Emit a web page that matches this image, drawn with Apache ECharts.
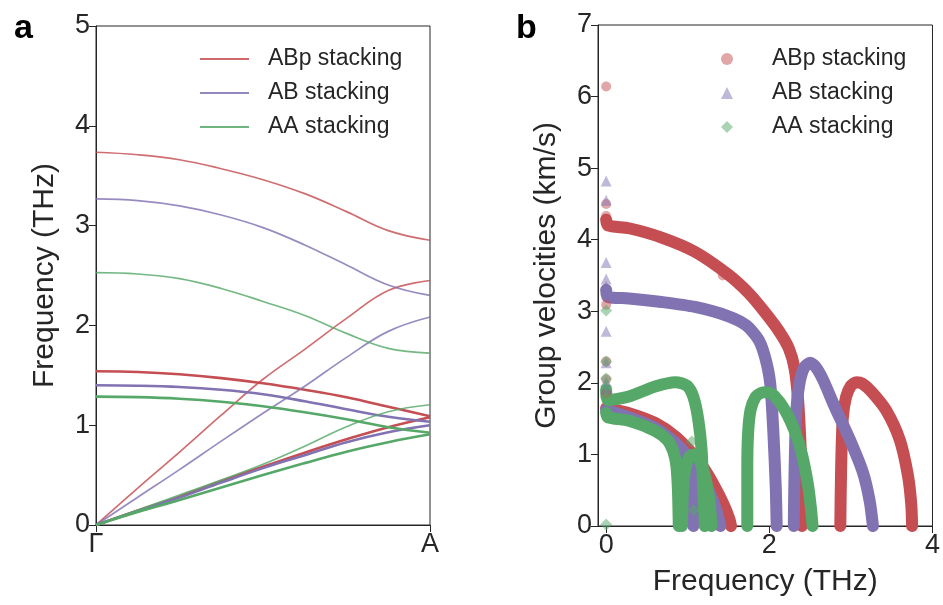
<!DOCTYPE html>
<html>
<head>
<meta charset="utf-8">
<script src="https://cdn.jsdelivr.net/npm/echarts@6/dist/echarts.min.js"></script>
<style>
  html, body { margin: 0; padding: 0; background: #fff; }
  #chart { width: 943px; height: 605px; }
</style>
</head>
<body>
<div id="chart"></div>
<script>
// ---- Panel a: phonon dispersion along Γ–A (fraction of path, THz) ----
const pathPos = [0, 0.125, 0.25, 0.375, 0.5, 0.625, 0.75, 0.875, 1];
const pathTickLabels = ['Γ', 'A'];

const abpLO = [3.735, 3.71, 3.66, 3.57, 3.46, 3.32, 3.14, 2.95, 2.853];
const abpLA = [0, 0.37, 0.73, 1.10, 1.46, 1.76, 2.07, 2.35, 2.45];
const abpTO = [1.54, 1.533, 1.51, 1.472, 1.42, 1.355, 1.28, 1.185, 1.09];
const abpTA = [0, 0.145, 0.284, 0.44, 0.584, 0.725, 0.859, 0.98, 1.08];

const abLO = [3.267, 3.25, 3.197, 3.106, 2.98, 2.806, 2.605, 2.405, 2.30];
const abLA = [0, 0.278, 0.555, 0.84, 1.12, 1.39, 1.68, 1.94, 2.084];
const abTO = [1.40, 1.396, 1.383, 1.355, 1.31, 1.24, 1.16, 1.085, 1.035];
const abTA = [0, 0.14, 0.275, 0.425, 0.57, 0.70, 0.83, 0.93, 1.00];

const aaLO = [2.528, 2.515, 2.468, 2.37, 2.24, 2.10, 1.92, 1.77, 1.723];
const aaLA = [0, 0.15, 0.30, 0.45, 0.608, 0.79, 0.985, 1.135, 1.205];
const aaTO = [1.286, 1.281, 1.265, 1.235, 1.19, 1.13, 1.06, 0.98, 0.925];
const aaTA = [0, 0.13, 0.25, 0.375, 0.50, 0.62, 0.735, 0.83, 0.909];

// ---- Panel b: group velocity (km/s) against frequency (THz) ----
const abpVelLA = [[0,4.28],[0.02,4.2],[0.28,4.16],[0.68,4.03],[1.09,3.83],[1.5,3.51],[1.75,3.25],[1.95,2.98],[2.12,2.72],[2.24,2.48],[2.31,2.2],[2.35,1.8],[2.38,1.2],[2.40,0.5],[2.40,0]];
const abpVelLO = [[2.87,0],[2.88,0.8],[2.9,1.5],[2.94,1.8],[3.0,1.96],[3.07,2.01],[3.14,1.99],[3.25,1.88],[3.43,1.62],[3.6,1.2],[3.7,0.7],[3.74,0.3],[3.75,0]];
const abpVelLow = [[0,1.65],[0.3,1.57],[0.6,1.44],[0.85,1.25],[1.05,1.02],[1.2,0.8],[1.33,0.55],[1.44,0.3],[1.51,0.1],[1.53,0]];
const abpOutliers = [[0,6.14],[0,4.5],[0,4.33],[0,3.09],[0,2.3],[0,2.05],[0,1.85],[1.43,3.5]];

const abVelLA = [[0,3.3],[0.02,3.2],[0.28,3.18],[0.68,3.13],[1.09,3.06],[1.5,2.93],[1.72,2.8],[1.87,2.6],[1.95,2.35],[2.01,2.0],[2.05,1.3],[2.08,0.5],[2.09,0]];
const abVelLO = [[2.30,0],[2.31,0.8],[2.33,1.6],[2.37,2.0],[2.43,2.22],[2.5,2.28],[2.57,2.22],[2.66,2.04],[2.8,1.67],[2.99,1.2],[3.15,0.74],[3.23,0.35],[3.27,0]];
const abVelLow = [[0,1.62],[0.3,1.51],[0.6,1.37],[0.85,1.16],[1.0,0.97],[1.15,0.72],[1.27,0.46],[1.35,0.22],[1.40,0]];
const abVelDrop = [[0.98,0.97],[1.04,0.75],[1.06,0.4],[1.07,0]];
const abOutliers = [[0,4.82],[0,4.55],[0,3.68],[0,3.45],[0,3.35],[0,2.72],[0,2.28],[0,2.02],[0,1.92]];

const aaVelLA = [[0,1.9],[0.02,1.76],[0.28,1.81],[0.6,1.95],[0.85,2.01],[0.99,1.96],[1.07,1.8],[1.13,1.48],[1.17,1.06],[1.19,0.5],[1.21,0]];
const aaVelTA = [[0,1.58],[0.02,1.52],[0.28,1.47],[0.6,1.33],[0.75,1.2],[0.82,1.05],[0.86,0.85],[0.88,0.5],[0.89,0]];
const aaVelTO = [[0.93,0],[0.94,0.45],[0.97,0.8],[1.03,0.98],[1.1,1.0],[1.17,0.85],[1.23,0.6],[1.27,0.3],[1.29,0]];
const aaVelLO = [[1.73,0],[1.73,0.8],[1.74,1.3],[1.77,1.62],[1.83,1.8],[1.9,1.86],[1.97,1.87],[2.06,1.82],[2.19,1.62],[2.32,1.3],[2.40,1.0],[2.47,0.6],[2.51,0.25],[2.53,0]];
const aaOutliers = [[0,3.01],[0,2.3],[0,2.06],[0,1.95],[0,1.8],[0,0.02],[1.05,1.18],[1.07,0.22]];

const velTicks = [0, 2, 4];

const RED = '#c44e52', PURPLE = '#8172b2', GREEN = '#55a868';
const INK = '#262626';
const FONT = "'Liberation Sans', Arial, Helvetica, sans-serif";

const labels = {
  abp: 'ABp stacking', ab: 'AB stacking', aa: 'AA stacking',
  abpV: 'ABp stacking', abV: 'AB stacking', aaV: 'AA stacking'
};

function pairs(ys) { return pathPos.map((x, i) => [x, ys[i]]); }

function bandLine(name, color, ys, thick) {
  return {
    type: 'line', name: name, xAxisIndex: 0, yAxisIndex: 0,
    data: pairs(ys), symbol: 'none', smooth: 0.4,
    lineStyle: { color: color, width: thick ? 2.6 : 1.7, opacity: thick ? 1 : 0.82 },
    itemStyle: { color: color }, silent: true, animation: false
  };
}

function velLine(name, color, pts) {
  return {
    type: 'line', name: name, xAxisIndex: 1, yAxisIndex: 1,
    data: pts, symbol: 'none', smooth: 0.25,
    lineStyle: { color: color, width: 12, cap: 'round', join: 'round' },
    itemStyle: { color: color }, silent: true, animation: false, z: 2
  };
}

function velScatter(name, color, symbol, size, pts) {
  return {
    type: 'scatter', name: name, xAxisIndex: 1, yAxisIndex: 1,
    data: pts, symbol: symbol, symbolSize: size,
    itemStyle: { color: color, opacity: 0.5 }, silent: true, animation: false, z: 5
  };
}

const axisCommon = {
  axisLine: { show: true, onZero: false, lineStyle: { color: INK, width: 1 } },
  axisTick: { show: true, length: 7, lineStyle: { color: INK, width: 1 } },
  axisLabel: { fontSize: 27, color: INK, fontFamily: FONT, margin: 6 },
  splitLine: { show: false },
  nameTextStyle: { fontSize: 30, color: INK, fontFamily: FONT }
};

const option = {
  backgroundColor: '#ffffff',
  animation: false,
  title: [
    { text: 'a', left: 9, top: 7, textStyle: { fontSize: 34, fontWeight: 'bold', color: '#000', fontFamily: FONT } },
    { text: 'b', left: 511, top: 7, textStyle: { fontSize: 34, fontWeight: 'bold', color: '#000', fontFamily: FONT } }
  ],
  grid: [
    { left: 96, top: 26, width: 334, height: 499, show: true, borderColor: INK, borderWidth: 1, backgroundColor: 'transparent' },
    { left: 598, top: 25, width: 335, height: 501, show: true, borderColor: INK, borderWidth: 1, backgroundColor: 'transparent' }
  ],
  xAxis: [
    Object.assign({}, axisCommon, {
      type: 'value', gridIndex: 0, min: 0, max: 1, interval: 1,
      axisLabel: Object.assign({}, axisCommon.axisLabel, {
        formatter: v => (v === 0 ? pathTickLabels[0] : pathTickLabels[1])
      })
    }),
    Object.assign({}, axisCommon, {
      type: 'value', gridIndex: 1, min: -0.1, max: 4,
      name: 'Frequency (THz)', nameLocation: 'middle', nameGap: 41,
      axisTick: Object.assign({}, axisCommon.axisTick, { customValues: velTicks }),
      axisLabel: Object.assign({}, axisCommon.axisLabel, { customValues: velTicks })
    })
  ],
  yAxis: [
    Object.assign({}, axisCommon, {
      type: 'value', gridIndex: 0, min: 0, max: 5, interval: 1,
      name: 'Frequency (THz)', nameLocation: 'middle', nameGap: 36
    }),
    Object.assign({}, axisCommon, {
      type: 'value', gridIndex: 1, min: 0, max: 7, interval: 1,
      name: 'Group velocities (km/s)', nameLocation: 'middle', nameGap: 36
    })
  ],
  legend: [
    {
      orient: 'vertical', left: 195, top: 42, itemWidth: 49, itemHeight: 2, itemGap: 10,
      selectedMode: false,
      textStyle: { fontSize: 23, color: INK, fontFamily: FONT, lineHeight: 24, padding: [0, 0, 0, 14] },
      formatter: n => labels[n],
      data: [
        { name: 'abp', icon: 'rect', itemStyle: { opacity: 0.85 } },
        { name: 'ab', icon: 'rect', itemStyle: { opacity: 0.85 } },
        { name: 'aa', icon: 'rect', itemStyle: { opacity: 0.85 } }
      ]
    },
    {
      orient: 'vertical', left: 716, top: 42, itemWidth: 12, itemHeight: 12, itemGap: 10,
      selectedMode: false,
      textStyle: { fontSize: 23, color: INK, fontFamily: FONT, lineHeight: 24, padding: [0, 0, 0, 34] },
      formatter: n => labels[n],
      data: [
        { name: 'abpV', icon: 'circle' },
        { name: 'abV', icon: 'triangle' },
        { name: 'aaV', icon: 'diamond' }
      ]
    }
  ],
  series: [
    // panel a
    bandLine('abp', RED, abpLO, false),
    bandLine('abp', RED, abpLA, false),
    bandLine('abp', RED, abpTO, true),
    bandLine('abp', RED, abpTA, true),
    bandLine('ab', PURPLE, abLO, false),
    bandLine('ab', PURPLE, abLA, false),
    bandLine('ab', PURPLE, abTO, true),
    bandLine('ab', PURPLE, abTA, true),
    bandLine('aa', GREEN, aaLO, false),
    bandLine('aa', GREEN, aaLA, false),
    bandLine('aa', GREEN, aaTO, true),
    bandLine('aa', GREEN, aaTA, true),
    // panel b: markers first so the legend takes their shape
    velScatter('abpV', RED, 'circle', 10, abpOutliers),
    velScatter('abV', PURPLE, 'triangle', 11, abOutliers),
    velScatter('aaV', GREEN, 'diamond', 12, aaOutliers),
    velLine('abpV', RED, abpVelLA),
    velLine('abpV', RED, abpVelLO),
    velLine('abpV', RED, abpVelLow),
    velLine('abV', PURPLE, abVelLA),
    velLine('abV', PURPLE, abVelLO),
    velLine('abV', PURPLE, abVelLow),
    velLine('abV', PURPLE, abVelDrop),
    velLine('aaV', GREEN, aaVelLA),
    velLine('aaV', GREEN, aaVelTA),
    velLine('aaV', GREEN, aaVelTO),
    velLine('aaV', GREEN, aaVelLO)
  ]
};

const chart = echarts.init(document.getElementById('chart'), null, { renderer: 'canvas' });
chart.setOption(option);
</script>
</body>
</html>
